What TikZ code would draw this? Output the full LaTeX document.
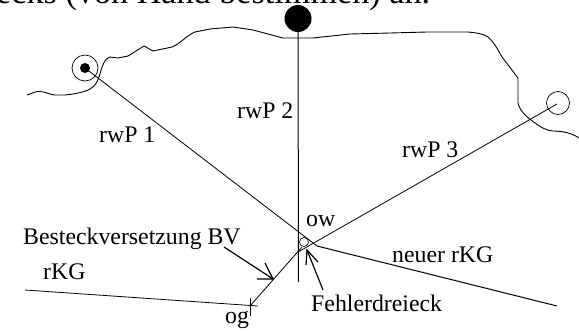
\documentclass[tikz,border=0pt]{standalone}
\usepackage{fontspec}
\setmainfont{Liberation Serif}
\tikzset{
  lab/.style={inner sep=0pt,font=\fontsize{23.8}{26}\selectfont,anchor=base west},
  thin line/.style={draw=black,line width=0.8pt},
  coast/.style={draw=black,line width=0.9pt,line join=round},
  open tip/.style={draw=black,line width=1.2pt}
}
\begin{document}
\begin{tikzpicture}[x=1pt,y=-1pt]
\useasboundingbox (0,0) rectangle (579,330);
\begin{scope}
\clip (0,0) rectangle (579,330);
\node[lab,font=\fontsize{34.2}{36}\selectfont] (title) at (-4,3) {ecks (von Hand bestimmen) an.};
\end{scope}
\draw[coast] (27,95) .. controls (33,93) and (36,91) .. (40,91.5) .. controls (47,92) and (50,95) .. (55,95)
 -- (65,95) .. controls (75,94) and (85,92) .. (90,89) .. controls (96,86) and (98,80) .. (100,74)
 .. controls (102,66) and (105,58) .. (110,57) -- (118,58) -- (128,56) -- (144,46) -- (153,51) -- (172,47)
 .. controls (180,44) and (187,35) .. (195,32) -- (210,29) -- (233,27) -- (253,30) -- (283,38) -- (313,38)
 -- (350,34) -- (390,33) -- (427,32) -- (468,32) .. controls (480,33) and (488,35) .. (492,41)
 .. controls (496,46) and (498,50) .. (502,57) -- (518,78) -- (518,103)
 .. controls (520,112) and (528,118) .. (535,123) .. controls (542,128) and (548,131) .. (553,131)
 .. controls (562,131) and (572,133) .. (579,138);
\node[circle,draw,line width=0.7pt,minimum size=26pt,inner sep=0pt] (w1) at (85,68) {};
\node[circle,fill=black,minimum size=10pt,inner sep=0pt] (d1) at (85,68) {};
\node[circle,fill=black,minimum size=27pt,inner sep=0pt] (d2) at (298,18.5) {};
\node[circle,draw,line width=0.7pt,minimum size=23pt,inner sep=0pt] (w3) at (558,103) {};
\coordinate (e1) at (317,246);
\coordinate (e2) at (298.5,282);
\coordinate (e3) at (298,252);
\coordinate (w3e) at (557,104);
\coordinate (og) at (250,306);
\coordinate (bv) at (273,279);
\coordinate (k2) at (302,247);
\coordinate (nk2) at (557,306);
\coordinate (kg) at (25,290);
\coordinate (ke) at (258,306);
\coordinate (ot) at (250,298);
\coordinate (ob) at (250,316);
\coordinate (bs) at (224,247);
\coordinate (bw1) at (265,263);
\coordinate (bw2) at (257,279);
\coordinate (fs) at (323,290);
\coordinate (ft) at (307,250);
\coordinate (fw1) at (306,265);
\coordinate (fw2) at (318,262);
\draw[thin line] (d1.center) -- (e1);
\draw[thin line,line width=1pt] (d2) -- (e2);
\draw[thin line] (w3e) -- (e3);
\draw[thin line] (kg) -- (ke);
\draw[thin line] (ot) -- (ob);
\draw[thin line] (og) -- (k2);
\draw[thin line,line width=1pt] (e1) -- (nk2);
\node[circle,draw,line width=0.6pt,minimum size=9pt,inner sep=0pt] (fd) at (304,242) {};
\draw[open tip] (bs) -- (bv);
\draw[open tip] (bw1) -- (bv) -- (bw2);
\draw[open tip] (fs) -- (ft);
\draw[open tip] (fw1) -- (ft) -- (fw2);
\node[lab] (l1) at (99,142) {rwP 1};
\node[lab] (l2) at (237,118) {rwP 2};
\node[lab] (l3) at (402,157) {rwP 3};
\node[lab] (l4) at (306,226) {ow};
\node[lab] (l5) at (23,244) {Besteckversetzung BV};
\node[lab] (l6) at (43,279) {rKG};
\node[lab] (l7) at (225,323) {og};
\node[lab] (l8) at (311,311) {Fehlerdreieck};
\node[lab] (l9) at (392,262) {neuer rKG};
\end{tikzpicture}
\end{document}
